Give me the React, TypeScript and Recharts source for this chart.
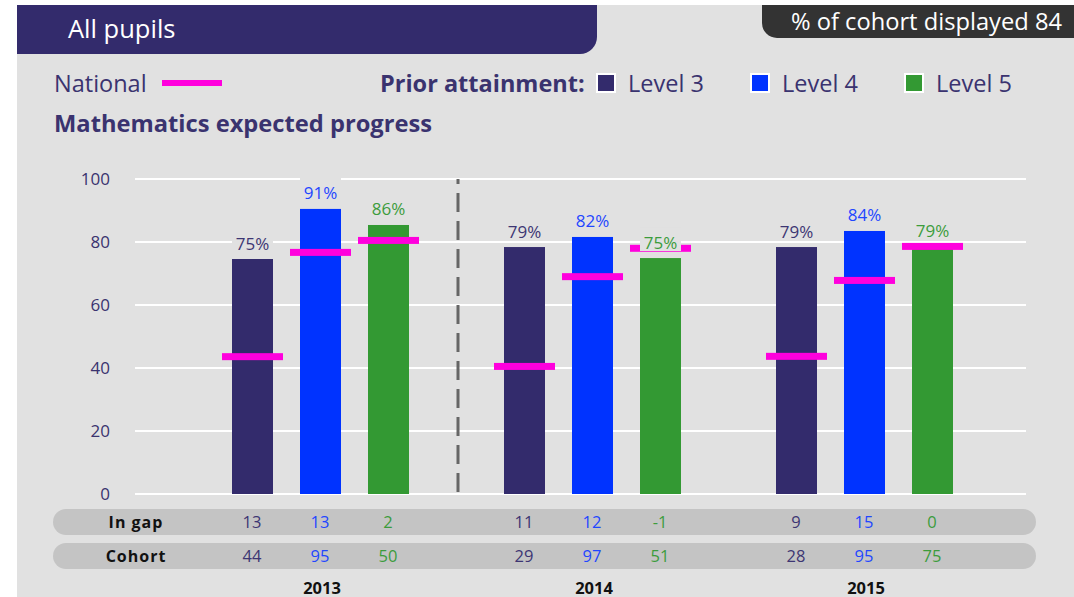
import React from "react";
import { BarChart, Bar, XAxis, YAxis, CartesianGrid, LabelList, ReferenceLine } from "recharts";

if (typeof document !== "undefined") {
  document.body.style.margin = "0";
}

// ---------- data ----------
const years = ["2013", "2014", "2015"];
const level3 = [74.6, 78.4, 78.4];
const level4 = [90.5, 81.6, 83.5];
const level5 = [85.4, 74.9, 78.6];
const level3Labels = ["75%", "79%", "79%"];
const level4Labels = ["91%", "82%", "84%"];
const level5Labels = ["86%", "75%", "79%"];
const national3 = [43.6, 40.5, 43.7];
const national4 = [76.7, 69.0, 67.8];
const national5 = [80.5, 78.0, 78.6];
const inGap3 = [13, 11, 9];
const inGap4 = [13, 12, 15];
const inGap5 = [2, -1, 0];
const cohort3 = [44, 29, 28];
const cohort4 = [95, 97, 95];
const cohort5 = [50, 51, 75];
const yTicks = [0, 20, 40, 60, 80, 100];
const rowLabels = ["In gap", "Cohort"];

// ---------- styles ----------
const FONT = "'Open Sans', sans-serif";
const BG = "#e1e1e1";
const ROW_BG = "#c4c4c4";
const MAGENTA = "#ff00dd";
const PURPLE = "#332b6c";
const TEXT_PURPLE = "#3a336f";
const BAR_SIZE = 41;
const BAR_GAP = 27;

const series = [
  { key: "l3", nat: "l3n", lab: "l3lab", gap: "l3gap", coh: "l3coh", name: "Level 3", color: PURPLE, text: "#3d3673" },
  { key: "l4", nat: "l4n", lab: "l4lab", gap: "l4gap", coh: "l4coh", name: "Level 4", color: "#0033ff", text: "#1f47ff" },
  { key: "l5", nat: "l5n", lab: "l5lab", gap: "l5gap", coh: "l5coh", name: "Level 5", color: "#339933", text: "#3c9c3c" },
];

const data = years.map((y, i) => ({
  year: y,
  l3: level3[i], l4: level4[i], l5: level5[i],
  l3n: national3[i], l4n: national4[i], l5n: national5[i],
  l3lab: level3Labels[i], l4lab: level4Labels[i], l5lab: level5Labels[i],
  l3gap: inGap3[i], l4gap: inGap4[i], l5gap: inGap5[i],
  l3coh: cohort3[i], l4coh: cohort4[i], l5coh: cohort5[i],
}));

const makeShape = (valKey: string, natKey: string, color: string) => (props: any) => {
  const { x, y, width, height, payload } = props;
  const v = payload[valKey];
  const bottom = y + height;
  const ppu = v ? height / v : 0;
  const ny = bottom - payload[natKey] * ppu;
  return (
    <g>
      <rect x={x} y={y} width={width} height={height} fill={color} />
      <rect x={x + width / 2 - 30.5} y={ny - 3.5} width={61} height={7} fill={MAGENTA} />
    </g>
  );
};

const makeLabel = (color: string) => (props: any) => {
  const { x, y, width, value } = props;
  const cx = x + width / 2;
  const ty = y - 16;
  return (
    <g>
      <rect x={x} y={ty - 15} width={width} height={24} fill={BG} />
      <text x={cx} y={ty} textAnchor="middle" dominantBaseline="central" fill={color} fontSize={17} fontFamily={FONT}>
        {value}
      </text>
    </g>
  );
};

const ROW_LEFT = 53;
const ROW_RIGHT = 1036;

const Tick = (props: any) => {
  const { x, y, payload } = props;
  const idx = payload.index;
  const row = data[idx];
  const step = BAR_SIZE + BAR_GAP;
  return (
    <g>
      {idx === 0 && (
        <g>
          <rect x={ROW_LEFT} y={y + 15} width={ROW_RIGHT - ROW_LEFT} height={26} rx={13} ry={13} fill={ROW_BG} />
          <rect x={ROW_LEFT} y={y + 49} width={ROW_RIGHT - ROW_LEFT} height={26} rx={13} ry={13} fill={ROW_BG} />
          {rowLabels.map((t, r) => (
            <text key={t} x={136} y={y + 28 + r * 34} textAnchor="middle" dominantBaseline="central" fill="#111" fontSize={16} fontWeight={700} letterSpacing={1} fontFamily={FONT}>
              {t}
            </text>
          ))}
        </g>
      )}
      {series.map((s, k) => (
        <g key={s.key}>
          <text x={x + (k - 1) * step} y={y + 27} textAnchor="middle" dominantBaseline="central" fill={s.text} fontSize={16.5} fontFamily={FONT}>
            {row ? row[s.gap as keyof typeof row] : ""}
          </text>
          <text x={x + (k - 1) * step} y={y + 61} textAnchor="middle" dominantBaseline="central" fill={s.text} fontSize={16.5} fontFamily={FONT}>
            {row ? row[s.coh as keyof typeof row] : ""}
          </text>
        </g>
      ))}
      <text x={x + 2} y={y + 93} textAnchor="middle" dominantBaseline="central" fill="#111" fontSize={16.5} fontWeight={700} fontFamily={FONT}>
        {payload.value}
      </text>
    </g>
  );
};

const SepLine = (props: any) => {
  const { x1, y1, x2, y2 } = props;
  if (x1 == null) return null;
  return <line x1={x1 + 2} y1={y1 - 2} x2={x2 + 2} y2={y2} stroke="#666666" strokeWidth={3} strokeDasharray="19 9" />;
};

const abs = (left: number, top: number, extra: React.CSSProperties = {}): React.CSSProperties => ({
  position: "absolute",
  left,
  top,
  ...extra,
});

const LEG_FS = 23.5;

export default function App() {
  return (
    <div style={{ position: "relative", width: 1074, height: 597, background: "#fff", overflow: "hidden", fontFamily: FONT }}>
      <div style={{ position: "absolute", left: 17, top: 5, right: 0, bottom: 0, background: BG }} />
      {/* header */}
      <div style={abs(17, 5, { width: 580, height: 49, background: PURPLE, borderBottomRightRadius: 17 })}>
        <div style={{ position: "absolute", left: 51, top: 0, lineHeight: "47px", fontSize: 25.5, color: "#fff", whiteSpace: "nowrap" }}>All pupils</div>
      </div>
      <div style={abs(762, 5, { width: 312, height: 33, background: "#333333", borderBottomLeftRadius: 15 })}>
        <div style={{ position: "absolute", right: 12, top: 0, lineHeight: "33px", fontSize: 23.7, color: "#fff", whiteSpace: "nowrap" }}>
          % of cohort displayed 84
        </div>
      </div>
      {/* legend */}
      <div style={abs(54, 67, { lineHeight: "32px", fontSize: LEG_FS, color: TEXT_PURPLE, whiteSpace: "nowrap" })}>National</div>
      <div style={abs(162, 80, { width: 60, height: 6, background: MAGENTA })} />
      <div style={abs(380, 67, { lineHeight: "32px", fontSize: LEG_FS, fontWeight: 700, color: TEXT_PURPLE, whiteSpace: "nowrap" })}>
        Prior attainment:
      </div>
      {series.map((s, k) => (
        <React.Fragment key={s.key}>
          <div
            style={abs(596 + k * 154, 73, {
              width: 20,
              height: 20,
              boxSizing: "border-box",
              border: "2px solid #fff",
              background: s.color,
            })}
          />
          <div style={abs(628 + k * 154, 67, { lineHeight: "32px", fontSize: LEG_FS, color: TEXT_PURPLE, whiteSpace: "nowrap" })}>{s.name}</div>
        </React.Fragment>
      ))}
      <div style={abs(54, 107, { lineHeight: "32px", fontSize: 23.7, fontWeight: 700, color: TEXT_PURPLE, whiteSpace: "nowrap" })}>
        Mathematics expected progress
      </div>
      {/* chart */}
      <div style={{ position: "absolute", left: 0, top: 0 }}>
        <BarChart
          width={1074}
          height={597}
          data={data}
          margin={{ top: 179, right: 48, bottom: 0, left: 0 }}
          barSize={BAR_SIZE}
          barGap={BAR_GAP}
        >
          <CartesianGrid horizontal vertical={false} stroke="#ffffff" strokeWidth={2} />
          <XAxis
            dataKey="year"
            type="category"
            height={103}
            padding={{ left: 49, right: 26 }}
            axisLine={false}
            tickLine={false}
            tickSize={0}
            tickMargin={0}
            interval={0}
            tick={<Tick />}
          />
          <YAxis
            type="number"
            domain={[0, 100]}
            ticks={yTicks}
            width={135}
            axisLine={false}
            tickLine={false}
            tickSize={0}
            tickMargin={25}
            tick={{ fill: TEXT_PURPLE, fontSize: 17, fontFamily: FONT }}
          />
          <ReferenceLine x="2014" position="start" stroke="#666666" strokeWidth={3} strokeDasharray="19 9" shape={SepLine} />
          {series.map((s) => (
            <Bar key={s.key} dataKey={s.key} name={s.name} fill={s.color} isAnimationActive={false} shape={makeShape(s.key, s.nat, s.color)}>
              <LabelList dataKey={s.lab} content={makeLabel(s.text)} />
            </Bar>
          ))}
        </BarChart>
      </div>
    </div>
  );
}
